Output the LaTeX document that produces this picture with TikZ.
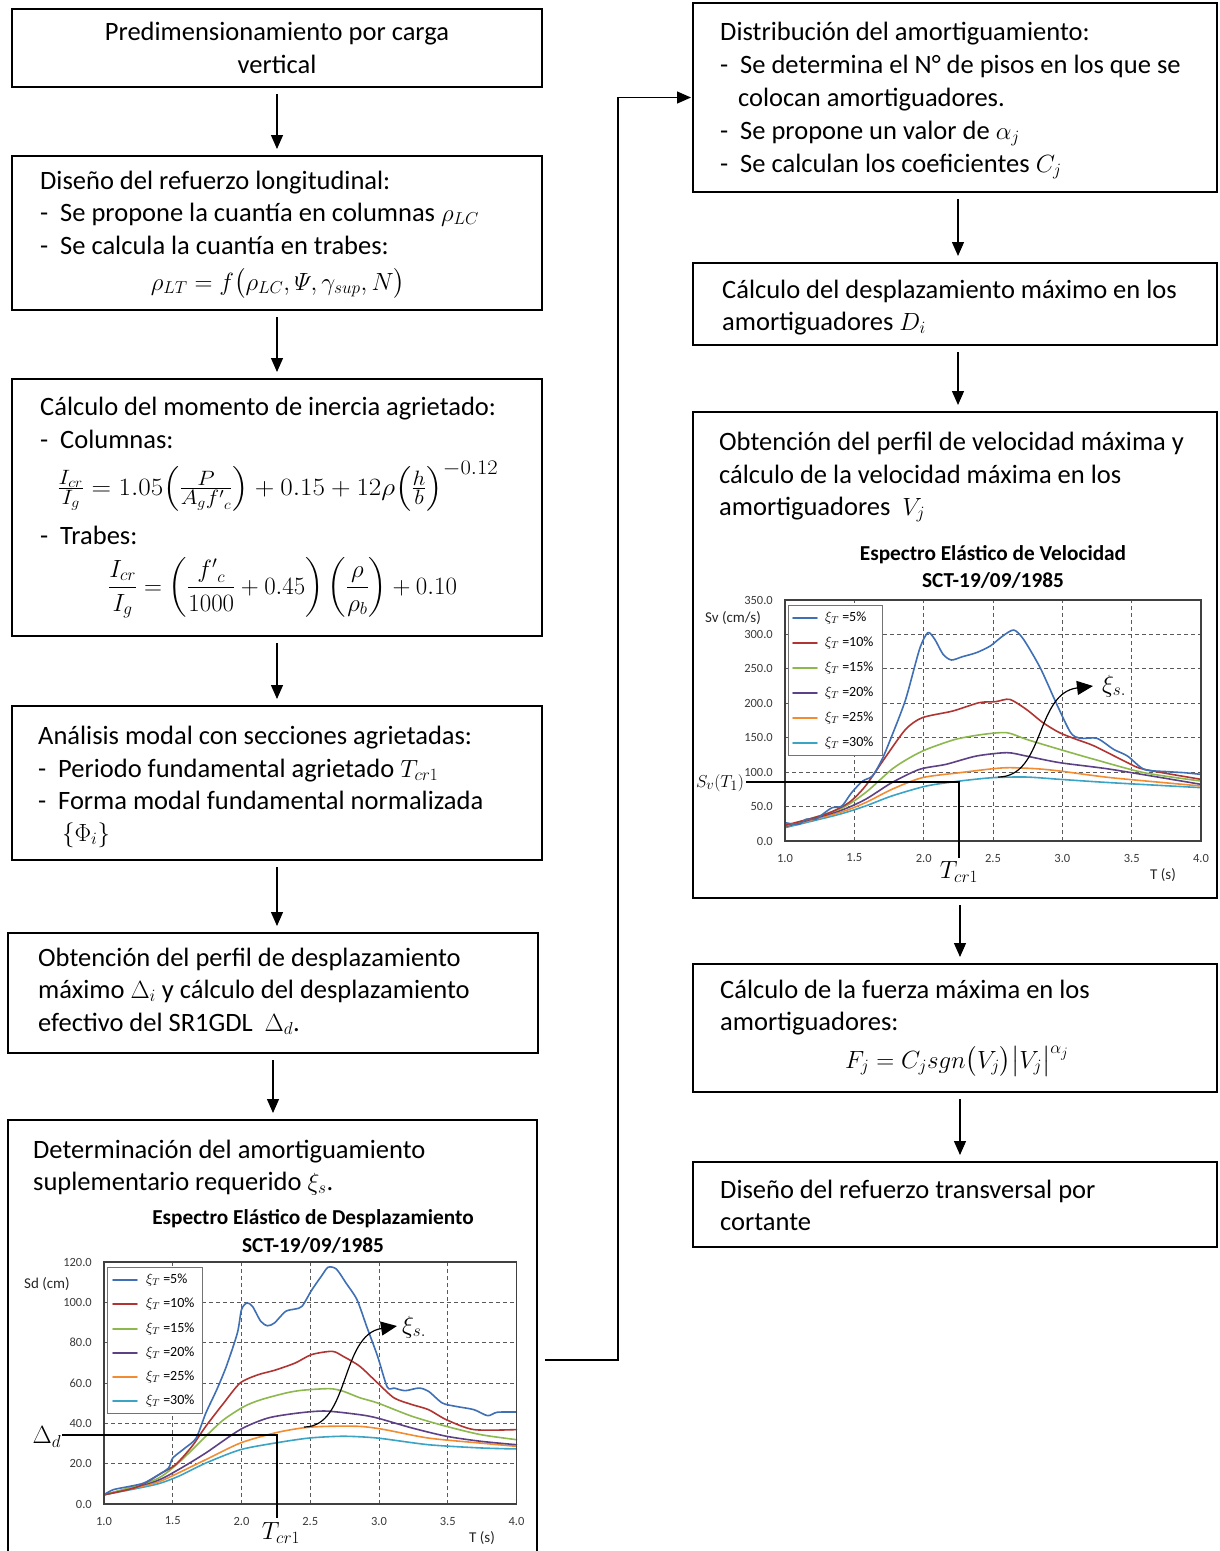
\documentclass[tikz,border=0pt]{standalone}
\usepackage{amsmath}
\usepackage[no-math]{fontspec}
\setmainfont{Carlito}
\usetikzlibrary{arrows.meta}
\definecolor{cB}{HTML}{3F6FB4}
\definecolor{cR}{HTML}{B03532}
\definecolor{cG}{HTML}{8CB84E}
\definecolor{cP}{HTML}{5C4186}
\definecolor{cO}{HTML}{F28C33}
\definecolor{cC}{HTML}{3BA3C4}
\definecolor{gridc}{HTML}{5A5A5A}
\definecolor{tickc}{HTML}{3A3A3A}
\newcommand\bodyfont{\fontsize{26.5}{32.5}\selectfont}
\newcommand\dsh{\makebox[20pt][l]{-}}
\tikzset{
  box/.style={draw, line width=2.2pt, inner sep=0pt, outer sep=0pt},
  arr/.style={line width=1.3pt, -{Triangle[length=14pt,width=12pt]}, shorten <=7pt, shorten >=7pt},
  tx/.style={anchor=base west, inner sep=0pt, font=\bodyfont},
  tc/.style={anchor=base, inner sep=0pt, font=\bodyfont},
  gridl/.style={gridc, line width=0.9pt, dash pattern=on 4pt off 3pt},
  frame/.style={draw=black!75, line width=1.4pt},
  curve/.style={line width=1.6pt, line join=round, line cap=round},
  tick/.style={inner sep=0pt, text=tickc, font=\fontsize{12.5}{14}\selectfont},
  axl/.style={inner sep=0pt, text=black!85, font=\fontsize{15}{17}\selectfont},
  leg/.style={anchor=west, inner sep=0pt, font=\fontsize{14}{16}\selectfont},
  legbox/.style={draw=black!55, fill=white, line width=1pt},
  ttl/.style={inner sep=0pt, font=\fontsize{21.3}{24}\selectfont\bfseries},
  refl/.style={line width=2.6pt},
  xiarr/.style={line width=1.2pt, -{Triangle[length=16pt,width=14pt]}},
}
\begin{document}
\begin{tikzpicture}[x=1pt, y=-1pt]
\fill[white] (0,0) rectangle (1219,1551);
\useasboundingbox (0,0) rectangle (1219,1551);

% ---------------- boxes ----------------
\node[box, minimum width=530pt, minimum height=78pt]  (b1) at (277,48) {};
\node[box, minimum width=530pt, minimum height=154pt] (b2) at (277,233) {};
\node[box, minimum width=530pt, minimum height=257pt] (b3) at (277,507.5) {};
\node[box, minimum width=530pt, minimum height=154pt] (b4) at (277,783) {};
\node[box, minimum width=530pt, minimum height=120pt] (b5) at (273,993) {};
\node[box, minimum width=529pt, minimum height=440pt] (b6) at (272.5,1340) {};
\node[box, minimum width=524pt, minimum height=189pt] (r1) at (955,97.5) {};
\node[box, minimum width=524pt, minimum height=82pt]  (r2) at (955,304) {};
\node[box, minimum width=524pt, minimum height=486pt] (r3) at (955,655) {};
\node[box, minimum width=524pt, minimum height=128pt] (r4) at (955,1028) {};
\node[box, minimum width=524pt, minimum height=85pt]  (r5) at (955,1204.5) {};

% ---------------- connectors ----------------
\draw[arr] (b1.south) -- (b1.south |- b2.north);
\draw[arr] (b2.south) -- (b2.south |- b3.north);
\draw[arr] (b3.south) -- (b3.south |- b4.north);
\draw[arr] (b4.south) -- (b4.south |- b5.north);
\draw[arr] (b5.south) -- (b5.south |- b6.north);
\draw[arr] ([xshift=3pt]r1.south) -- ([xshift=3pt]r1.south |- r2.north);
\draw[arr] ([xshift=3pt]r2.south) -- ([xshift=3pt]r2.south |- r3.north);
\draw[arr] ([xshift=5pt]r3.south) -- ([xshift=5pt]r3.south |- r4.north);
\draw[arr] ([xshift=5pt]r4.south) -- ([xshift=5pt]r4.south |- r5.north);
\coordinate (jn) at (618,1360);
\draw[arr, shorten >=2pt, shorten <=8pt] (b6.east |- jn) -- (jn) |- (r1.west);

% ---------------- texts left ----------------
\node[tc] (t11) at (277,40) {Predimensionamiento por carga};
\node[tc] (t12) at (277,73) {vertical};

\node[tx] (t21) at (40,189) {Diseño del refuerzo longitudinal:};
\node[tx] (t22) at (40,221) {\dsh Se propone la cuantía en columnas $\rho_{LC}$};
\node[tx] (t23) at (40,254) {\dsh Se calcula la cuantía en trabes:};
\node[tc] (t24) at (278,290) {$\rho_{LT} = f\bigl(\rho_{LC}, \varPsi, \gamma_{sup}, N\bigr)$};

\node[tx] (t31) at (40,415) {Cálculo del momento de inercia agrietado:};
\node[tx] (t32) at (40,448) {\dsh Columnas:};
\node[tx, font=\fontsize{29.5}{32.5}\selectfont] (t33) at (57,495) {\scalebox{1.09}[1]{$\tfrac{I_{cr}}{I_g} = 1.05\Bigl(\tfrac{P}{A_g {f'}_c}\Bigr) + 0.15 + 12\rho\Bigl(\tfrac{h}{b}\Bigr)^{-0.12}$}};
\node[tx] (t34) at (40,544) {\dsh Trabes:};
\node[tx] (t35) at (108,594) {$\displaystyle\frac{I_{cr}}{I_g} = \left(\frac{{f'}_c}{1000} + 0.45\right)\left(\frac{\rho}{\rho_b}\right) + 0.10$};

\node[tx] (t41) at (38,744) {Análisis modal con secciones agrietadas:};
\node[tx] (t42) at (38,777) {\dsh Periodo fundamental agrietado $T_{cr1}$};
\node[tx] (t43) at (38,809) {\dsh Forma modal fundamental normalizada};
\node[tx] (t44) at (62,841) {$\{\Phi_i\}$};

\node[tx] (t51) at (38,966) {Obtención del perfil de desplazamiento};
\node[tx] (t52) at (38,998) {máximo $\Delta_i$ y cálculo del desplazamiento};
\node[tx] (t53) at (38,1031) {efectivo del SR1GDL\ \ $\Delta_d$.};

\node[tx] (t61) at (33,1158) {Determinación del amortiguamiento};
\node[tx] (t62) at (33,1190) {suplementario requerido $\xi_s$.};

% ---------------- texts right ----------------
\node[tx] (u11) at (720,40) {Distribución del amortiguamiento:};
\node[tx] (u12) at (720,73) {\dsh Se determina el N° de pisos en los que se};
\node[tx] (u13) at (738,106) {colocan amortiguadores.};
\node[tx] (u14) at (720,139) {\dsh Se propone un valor de $\alpha_j$};
\node[tx] (u15) at (720,172) {\dsh Se calculan los coeficientes $C_j$};

\node[tx] (u21) at (722,298) {Cálculo del desplazamiento máximo en los};
\node[tx] (u22) at (722,330) {amortiguadores $D_i$};

\node[tx] (u31) at (719,450) {Obtención del perfil de velocidad máxima y};
\node[tx] (u32) at (719,483) {cálculo de la velocidad máxima en los};
\node[tx] (u33) at (719,515) {amortiguadores\ \ $V_j$};

\node[tx] (u41) at (720,998) {Cálculo de la fuerza máxima en los};
\node[tx] (u42) at (720,1030) {amortiguadores:};
\node[tc] (u43) at (957,1068) {$F_j = C_j sgn\bigl(V_j\bigr)\bigl|V_j\bigr|^{\alpha_j}$};

\node[tx] (u51) at (720,1198) {Diseño del refuerzo transversal por};
\node[tx] (u52) at (720,1230) {cortante};

% ================= displacement chart =================
\node[ttl] (d1) at (313,1219) {Espectro Elástico de Desplazamiento};
\node[ttl] (d2) at (313,1245) {SCT-19/09/1985};
\begin{scope}[shift={(-33.5,1504)}, xscale=137.5, yscale=-2.0167]
  \foreach \t in {1.5,2,2.5,3,3.5} \draw[gridl] (\t,0) -- (\t,120);
  \foreach \v in {20,40,60,80,100} \draw[gridl] (1,\v) -- (4,\v);
  \draw[cC, curve] plot[smooth, tension=0.45] coordinates {(1.0,4.6) (1.37,9.6) (1.54,13.7) (1.74,20.3) (1.99,26.9) (2.24,30.2) (2.49,32.7) (2.74,33.6) (2.99,32.7) (3.36,29.4) (3.74,27.8) (4.0,27.3)};
  \draw[cO, curve] plot[smooth, tension=0.45] coordinates {(1.0,4.6) (1.37,10.4) (1.54,15.4) (1.74,22) (1.99,30.2) (2.24,35.2) (2.44,37.7) (2.61,38.5) (2.86,38.5) (3.04,36.9) (3.36,32.7) (3.74,30.2) (4.0,28.6)};
  \draw[cP, curve] plot[smooth, tension=0.45] coordinates {(1.0,4.6) (1.37,11.2) (1.54,17) (1.74,25.3) (1.99,36.9) (2.19,42.6) (2.41,45.1) (2.61,46.1) (2.86,44.3) (2.99,42.6) (3.24,37.7) (3.49,33.6) (3.74,31.1) (4.0,29.4)};
  \draw[cG, curve] plot[smooth, tension=0.45] coordinates {(1.0,4.6) (1.37,12) (1.54,20.3) (1.74,33.6) (1.87,41.8) (2.02,48.4) (2.14,51.7) (2.32,55) (2.44,56.4) (2.64,57.2) (2.74,55.9) (2.86,52.7) (2.99,50.1) (3.24,43.5) (3.49,38.5) (3.74,34.4) (4.0,31.9)};
  \draw[cR, curve] plot[smooth, tension=0.45] coordinates {(1.0,4.6) (1.24,8.4) (1.42,15.4) (1.52,19.5) (1.64,28.6) (1.74,38.5) (1.87,50) (1.99,60) (2.12,64.1) (2.24,66.3) (2.39,69.9) (2.51,74.1) (2.66,75.7) (2.74,73.2) (2.86,68.3) (2.99,60) (3.11,52.6) (3.24,49.3) (3.36,46.8) (3.49,41.8) (3.69,36.9) (4.0,36.9)};
  \draw[cB, curve] plot[smooth, tension=0.45] coordinates {(1.0,4.6) (1.067,7.1) (1.19,8.8) (1.29,10.4) (1.39,14.2) (1.47,17.9) (1.50,22.8) (1.59,27.8) (1.67,32.7) (1.74,45) (1.82,56.7) (1.89,68.3) (1.97,84.8) (2.0,96.4) (2.04,99.7) (2.08,98) (2.14,90.6) (2.19,88.4) (2.24,89.8) (2.32,95.5) (2.39,96.7) (2.44,98) (2.51,106) (2.58,112.9) (2.63,117.4) (2.69,116.5) (2.76,109.6) (2.84,101.3) (2.91,88.1) (2.99,73.2) (3.06,58) (3.11,57.5) (3.19,56.2) (3.29,57.5) (3.36,55.9) (3.46,50.1) (3.56,48.4) (3.69,46.8) (3.79,43.8) (3.86,45.5) (4.0,45.6)};
  \draw[frame] (1,0) rectangle (4,120);
\end{scope}
\draw[legbox] (107,1267) rectangle (202,1413);
\foreach \c/\l/\yy [count=\i] in {cB/5/1280,cR/10/1304,cG/15/1329,cP/20/1353,cO/25/1377,cC/30/1401} {
  \draw[\c, curve] (113,\yy) -- (137,\yy);
  \node[leg] (dl\i) at (146,\yy) {$\xi_T$ =\l\%};
}
\foreach \v/\lab in {0/0.0,20/20.0,40/40.0,60/60.0,80/80.0,100/100.0,120/120.0}
  \node[tick, anchor=east] (dy\v) at (92,{1504-2.0167*\v}) {\lab};
\foreach \t/\lab [count=\i] in {1/1.0,1.5/1.5,2/2.0,2.5/2.5,3/3.0,3.5/3.5,4/4.0}
  \node[tick] (dx\i) at ({104+137.5*(\t-1)},1521) {\lab};
\node[axl] (dsd) at (47,1284) {Sd (cm)};
\node[axl] (dts) at (482,1538) {T (s)};
\coordinate (dA) at (62,1435);
\coordinate (dB) at (277,1435);
\coordinate (dC) at (277,1518);
\draw[refl] (dA) -- (dB) -- (dC);
\node[inner sep=0pt, font=\bodyfont] (dlab) at (47,1437) {$\Delta_d$};
\node[inner sep=0pt, font=\fontsize{23}{26}\selectfont] (dtcr) at (281,1533) {$T_{cr1}$};
\coordinate (dxs) at (304,1427);
\coordinate (dxe) at (397,1326);
\draw[xiarr] (dxs) .. controls (350,1427) and (340,1335) .. (dxe);
\node[anchor=west, inner sep=0pt, font=\fontsize{23}{26}\selectfont] (dxi) at (402,1327) {$\xi_{s.}$};

% ================= velocity chart =================
\node[ttl] (v1) at (993,555) {Espectro Elástico de Velocidad};
\node[ttl] (v2) at (993,580) {SCT-19/09/1985};
\begin{scope}[shift={(646.33,841)}, xscale=138.67, yscale=-0.68857]
  \foreach \t in {1.5,2,2.5,3,3.5} \draw[gridl] (\t,0) -- (\t,350);
  \foreach \v in {50,100,150,200,250,300} \draw[gridl] (1,\v) -- (4,\v);
  \draw[cC, curve] plot[smooth, tension=0.45] coordinates {(1.0,19.4) (1.39,38.7) (1.58,50.8) (1.77,65.4) (2.02,79.9) (2.26,87.1) (2.50,92) (2.74,92.9) (2.98,89.6) (3.35,84.7) (4.0,77.5)};
  \draw[cO, curve] plot[smooth, tension=0.45] coordinates {(1.0,20.8) (1.39,41.1) (1.58,55.7) (1.77,75) (1.99,92) (2.26,99.2) (2.50,105) (2.62,106.5) (2.81,105) (2.98,101.7) (3.35,92) (4.0,79.9)};
  \draw[cP, curve] plot[smooth, tension=0.45] coordinates {(1.0,20.8) (1.39,43.6) (1.58,60.5) (1.77,84.7) (1.97,104.1) (2.16,111.3) (2.38,123.4) (2.60,128.3) (2.74,123.4) (2.98,113.8) (3.35,104.1) (4.0,82.3)};
  \draw[cG, curve] plot[smooth, tension=0.45] coordinates {(1.0,21.8) (1.39,46) (1.58,70.2) (1.77,104.1) (1.90,121) (2.02,133.1) (2.23,147.7) (2.43,154.9) (2.60,157.3) (2.74,147.7) (2.98,133.1) (3.23,118.6) (3.59,99.2) (4.0,87.1)};
  \draw[cR, curve] plot[smooth, tension=0.45] coordinates {(1.0,22.8) (1.29,38.7) (1.46,55.7) (1.58,79.9) (1.73,123.4) (1.87,162.2) (1.99,179.1) (2.21,188.8) (2.40,200.9) (2.52,202.4) (2.62,205.7) (2.74,191.2) (2.86,171.9) (2.98,157.3) (3.10,147.7) (3.23,138) (3.47,113.8) (3.59,104.1) (4.0,89.6)};
  \draw[cB, curve] plot[smooth, tension=0.45] coordinates {(1.0,26.6) (1.1,24.2) (1.15,31.5) (1.22,31.5) (1.27,38.7) (1.34,48.4) (1.41,50.8) (1.48,70.2) (1.56,87.1) (1.63,94.4) (1.70,118.6) (1.77,152.5) (1.87,205.7) (1.97,278.4) (2.03,302.6) (2.08,292.9) (2.14,271.1) (2.20,262.9) (2.28,267.7) (2.38,273.5) (2.48,283.2) (2.57,297.7) (2.65,306.4) (2.72,292.9) (2.84,251.7) (2.96,198.5) (3.06,157.3) (3.13,149.1) (3.25,149.1) (3.37,133.1) (3.47,123.4) (3.59,104.1) (3.76,100.7) (3.88,99.2) (4.0,96.8)};
  \draw[frame] (1,0) rectangle (4,350);
\end{scope}
\draw[legbox] (788,605) rectangle (882,755);
\foreach \c/\l/\yy [count=\i] in {cB/5/618,cR/10/643,cG/15/668,cP/20/693,cO/25/718,cC/30/743} {
  \draw[\c, curve] (793,\yy) -- (817,\yy);
  \node[leg] (vl\i) at (825,\yy) {$\xi_T$ =\l\%};
}
\foreach \v/\lab in {0/0.0,50/50.0,100/100.0,150/150.0,200/200.0,250/250.0,300/300.0,350/350.0}
  \node[tick, anchor=east] (vy\v) at (773,{841-0.68857*\v}) {\lab};
\foreach \t/\lab [count=\i] in {1/1.0,1.5/1.5,2/2.0,2.5/2.5,3/3.0,3.5/3.5,4/4.0}
  \node[tick] (vx\i) at ({785+138.67*(\t-1)},858) {\lab};
\node[axl] (vsv) at (733,618) {Sv (cm/s)};
\node[axl] (vts) at (1163,875) {T (s)};
\coordinate (vA) at (746,782);
\coordinate (vB) at (959,782);
\coordinate (vC) at (959,858);
\draw[refl] (vA) -- (vB) -- (vC);
\node[inner sep=0pt, font=\fontsize{19}{22}\selectfont] (vlab) at (720,783) {$S_v(T_1)$};
\node[inner sep=0pt, font=\fontsize{23}{26}\selectfont] (vtcr) at (959,872) {$T_{cr1}$};
\coordinate (vxs) at (998,777);
\coordinate (vxe) at (1093,686);
\draw[xiarr] (vxs) .. controls (1045,777) and (1035,693) .. (vxe);
\node[anchor=west, inner sep=0pt, font=\fontsize{23}{26}\selectfont] (vxi) at (1102,686) {$\xi_{s.}$};
\end{tikzpicture}
\end{document}
